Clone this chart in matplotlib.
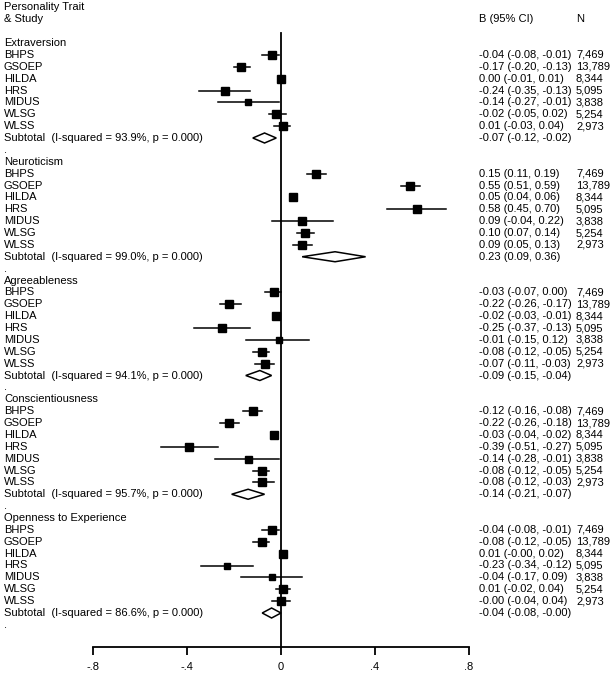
import matplotlib
matplotlib.use('Agg')
import matplotlib.pyplot as plt
import numpy as np

plt.rcParams['font.family'] = ['Liberation Sans', 'DejaVu Sans']

# Datos
rasgos = ['Extraversion', 'Neuroticism', 'Agreeableness', 'Conscientiousness',
          'Openness to Experience']
estudios = ['BHPS', 'GSOEP', 'HILDA', 'HRS', 'MIDUS', 'WLSG', 'WLSS']
n_estudio = ['7,469', '13,789', '8,344', '5,095', '3,838', '5,254', '2,973']

b_extra = [-0.04, -0.17, 0.00, -0.24, -0.14, -0.02, 0.01]
lo_extra = [-0.08, -0.20, -0.01, -0.35, -0.27, -0.05, -0.03]
hi_extra = [-0.01, -0.13, 0.01, -0.13, -0.01, 0.02, 0.04]

b_neuro = [0.15, 0.55, 0.05, 0.58, 0.09, 0.10, 0.09]
lo_neuro = [0.11, 0.51, 0.04, 0.45, -0.04, 0.07, 0.05]
hi_neuro = [0.19, 0.59, 0.06, 0.70, 0.22, 0.14, 0.13]

b_agree = [-0.03, -0.22, -0.02, -0.25, -0.01, -0.08, -0.07]
lo_agree = [-0.07, -0.26, -0.03, -0.37, -0.15, -0.12, -0.11]
hi_agree = [0.00, -0.17, -0.01, -0.13, 0.12, -0.05, -0.03]

b_consc = [-0.12, -0.22, -0.03, -0.39, -0.14, -0.08, -0.08]
lo_consc = [-0.16, -0.26, -0.04, -0.51, -0.28, -0.12, -0.12]
hi_consc = [-0.08, -0.18, -0.02, -0.27, -0.01, -0.05, -0.03]

b_open = [-0.04, -0.08, 0.01, -0.23, -0.04, 0.01, -0.0]
lo_open = [-0.08, -0.12, -0.0, -0.34, -0.17, -0.02, -0.04]
hi_open = [-0.01, -0.05, 0.02, -0.12, 0.09, 0.04, 0.04]

# Subtotales: I-squared, B, IC
i2_sub = [93.9, 99.0, 94.1, 95.7, 86.6]
b_sub = [-0.07, 0.23, -0.09, -0.14, -0.04]
lo_sub = [-0.12, 0.09, -0.15, -0.21, -0.08]
hi_sub = [-0.02, 0.36, -0.04, -0.07, -0.0]

ticks = [-0.8, -0.4, 0, 0.4, 0.8]
tick_labels = ['-.8', '-.4', '0', '.4', '.8']

B = [b_extra, b_neuro, b_agree, b_consc, b_open]
LO = [lo_extra, lo_neuro, lo_agree, lo_consc, lo_open]
HI = [hi_extra, hi_neuro, hi_agree, hi_consc, hi_open]

# Tamano de los cuadrados (px), segun peso
box_px = [[8.5, 8.5, 8.5, 7.5, 6, 8.5, 8.5],
          [8.5, 8.5, 8, 8.5, 8, 8, 8.5],
          [8.5, 8.5, 8, 8, 6, 8, 8],
          [8, 8, 8, 8, 7, 8, 8],
          [8, 8, 8.5, 6, 6, 8.5, 8.5]]

# Figura: un solo eje que ocupa todo
fig = plt.figure(figsize=(6.13, 6.75), dpi=100)
ax = fig.add_axes([0, 0, 1, 1])
px_x = 235.0   # px por unidad
x0 = 281.0     # px del cero
row_px = 11.875
y0 = 43.0
ax.set_xlim(-x0 / px_x, (613 - x0) / px_x)
ax.set_ylim((675 - y0) / row_px, -y0 / row_px)

def px2x(p):
    return (p - x0) / px_x

fs = 8.0
x_lab = px2x(4)
x_ci = px2x(479)
x_n = px2x(576)

def fmt(b, lo, hi):
    return f'{b:.2f} ({lo:.2f}, {hi:.2f})'

# Encabezados
ax.text(x_lab, -3.0, 'Personality Trait', fontsize=fs, va='center')
ax.text(x_lab, -2.0, '& Study', fontsize=fs, va='center')
ax.text(x_ci, -2.0, 'B (95% CI)', fontsize=fs, va='center')
ax.text(x_n, -2.0, 'N', fontsize=fs, va='center')

y_axis = (647 - y0) / row_px
# Linea del cero
ax.plot([0, 0], [-0.85, y_axis], color='black', lw=1.3, zorder=1)

for g in range(len(rasgos)):
    base = 10 * g
    ax.text(x_lab, base, rasgos[g], fontsize=fs, va='center')
    for i in range(len(estudios)):
        y = base + 1 + i
        ax.text(x_lab, y, estudios[i], fontsize=fs, va='center')
        ax.plot([LO[g][i], HI[g][i]], [y, y], color='black', lw=1.1, zorder=2)
        ax.plot(B[g][i], y, marker='s', color='black',
                markersize=box_px[g][i] * 0.72, zorder=3)
        ax.text(x_ci, y, fmt(B[g][i], LO[g][i], HI[g][i]), fontsize=fs, va='center')
        ax.text(x_n, y, n_estudio[i], fontsize=fs, va='center')
    # Subtotal
    y = base + 8
    ax.text(x_lab, y, f'Subtotal  (I-squared = {i2_sub[g]:.1f}%, p = 0.000)',
            fontsize=fs, va='center')
    h = 5.0 / row_px
    ax.fill([lo_sub[g], b_sub[g], hi_sub[g], b_sub[g]], [y, y - h, y, y + h],
            facecolor='white', edgecolor='black', lw=1.1, zorder=4)
    ax.text(x_ci, y, fmt(b_sub[g], lo_sub[g], hi_sub[g]), fontsize=fs, va='center')
    ax.text(x_lab, base + 9, '.', fontsize=fs, va='center')

# Eje inferior
for s in ['top', 'left', 'right']:
    ax.spines[s].set_visible(False)
ax.spines['bottom'].set_position(('data', y_axis))
ax.spines['bottom'].set_bounds(-0.8, 0.8)
ax.spines['bottom'].set_linewidth(1.3)
ax.set_xticks(ticks)
ax.set_xticklabels(tick_labels, fontsize=fs)
ax.tick_params(axis='x', direction='out', length=6, width=1.3, pad=5)
ax.set_yticks([])

fig.savefig('out.png', dpi=100)
